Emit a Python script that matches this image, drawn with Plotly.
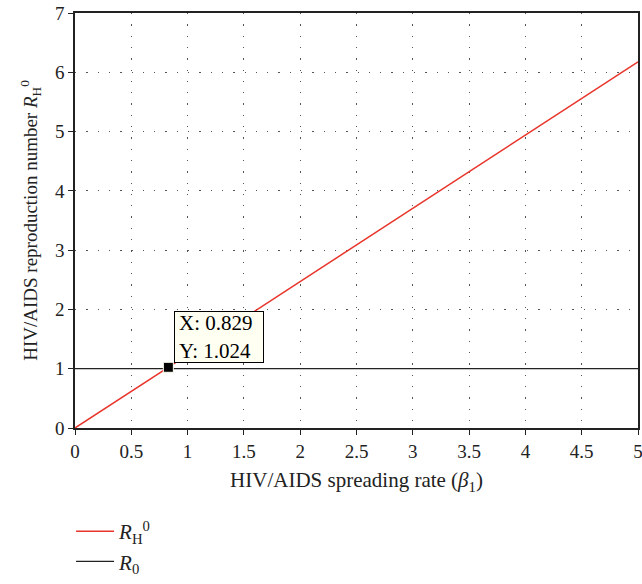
import plotly.graph_objects as go

beta = [0, 5]
rh0 = [0, 6.176]
r0 = [1, 1]
tip_x = [0.829]
tip_y = [1.024]
x_ticks = [0, 0.5, 1, 1.5, 2, 2.5, 3, 3.5, 4, 4.5, 5]
x_ticklabels = ["0", "0.5", "1", "1.5", "2", "2.5", "3", "3.5", "4", "4.5", "5"]
y_ticks = [0, 1, 2, 3, 4, 5, 6, 7]

FONT = "Liberation Serif"
FS = 19

fig = go.Figure()
fig.add_trace(go.Scatter(x=beta, y=rh0, mode="lines",
                         line=dict(color="#e8352b", width=1.5),
                         name="<i>R</i><sub>H</sub><sup>0</sup>"))
fig.add_trace(go.Scatter(x=beta, y=r0, mode="lines",
                         line=dict(color="#222222", width=1.3),
                         name="<i>R</i><sub>0</sub>"))
fig.add_trace(go.Scatter(x=tip_x, y=tip_y, mode="markers",
                         marker=dict(symbol="square", size=10, color="black",
                                     line=dict(color="#fffff0", width=1)),
                         showlegend=False, hoverinfo="skip"))

fig.add_annotation(x=tip_x[0], y=tip_y[0], xref="x", yref="y",
                   text=f"X: {tip_x[0]}<br>Y: {tip_y[0]}",
                   showarrow=False, xanchor="left", yanchor="bottom",
                   xshift=6, yshift=4, align="left",
                   width=80, height=42,
                   bgcolor="#fffff2", bordercolor="black", borderwidth=1,
                   borderpad=4,
                   font=dict(family=FONT, size=21, color="black"))

axis_common = dict(showline=True, linecolor="#222222", linewidth=1.5, mirror=True,
                   ticks="outside", ticklen=5, tickcolor="#222222", tickwidth=1.3,
                   showgrid=True, gridcolor="#555555", gridwidth=1.3,
                   griddash="1.3px,10px", zeroline=False,
                   ticklabeloverflow="allow",
                   tickfont=dict(family=FONT, size=FS, color="#222222"))

fig.update_xaxes(range=[0, 5], tickvals=x_ticks, ticktext=x_ticklabels,
                 automargin=False,
                 title=dict(text="HIV/AIDS spreading rate (<i>β</i><sub>1</sub>)",
                            font=dict(family=FONT, size=21, color="#222222"),
                            standoff=12),
                 **axis_common)
fig.update_yaxes(range=[0, 7], tickvals=y_ticks,
                 title=dict(text="HIV/AIDS reproduction number <i>R</i><sub>H</sub><sup>0</sup>",
                            font=dict(family=FONT, size=FS, color="#222222"),
                            standoff=12),
                 **axis_common)

fig.update_layout(
    width=642, height=584,
    margin=dict(l=75, r=2, t=13, b=154),
    paper_bgcolor="white", plot_bgcolor="white",
    showlegend=True,
    legend=dict(x=-0.007, xanchor="left", y=-0.2, yanchor="top",
                itemwidth=38,
                font=dict(family=FONT, size=21, color="#222222"),
                bgcolor="rgba(0,0,0,0)", tracegroupgap=0),
    font=dict(family=FONT),
)

fig.write_html("out.html")
